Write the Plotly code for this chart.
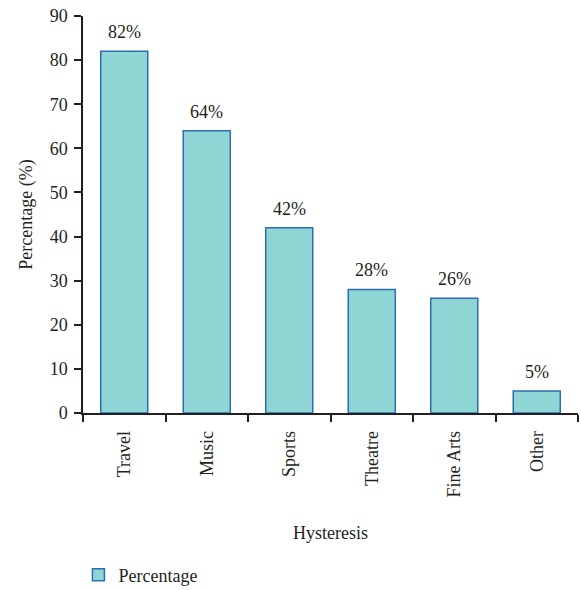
import plotly.graph_objects as go

categories = ["Travel", "Music", "Sports", "Theatre", "Fine Arts", "Other"]
percentages = [82, 64, 42, 28, 26, 5]
y_ticks = [0, 10, 20, 30, 40, 50, 60, 70, 80, 90]

FONT = "Liberation Serif, Times New Roman, serif"
TEXT = "#231f20"
SIZE = 18

fig = go.Figure()
fig.add_trace(go.Bar(
    x=categories,
    y=percentages,
    name="Percentage",
    marker=dict(color="#8fd5d4", line=dict(color="#2b6cb5", width=1.5)),
    showlegend=True,
))

# value labels above each bar
for cat, val in zip(categories, percentages):
    fig.add_annotation(
        x=cat, y=val, text=f"{val}%",
        showarrow=False, yanchor="bottom", yshift=7,
        font=dict(family=FONT, size=SIZE, color=TEXT),
    )

fig.update_layout(
    width=581, height=590,
    margin=dict(l=83, r=3, t=16, b=177),
    plot_bgcolor="white", paper_bgcolor="white",
    font=dict(family=FONT, size=SIZE, color=TEXT),
    bargap=0.43,
    showlegend=True,
    legend=dict(
        orientation="h",
        xref="container", yref="container",
        x=0.135, y=1 - 575 / 590,
        xanchor="left", yanchor="middle",
        font=dict(family=FONT, size=SIZE, color=TEXT),
    ),
    xaxis=dict(
        showline=True, linecolor=TEXT, linewidth=1.5,
        ticks="outside", ticklen=7, tickcolor=TEXT, tickwidth=1.5,
        tickson="boundaries",
        tickangle=-90,
        ticklabelstandoff=9,
        tickfont=dict(family=FONT, size=SIZE, color=TEXT),
        title=dict(text="Hysteresis", standoff=30,
                   font=dict(family=FONT, size=SIZE, color=TEXT)),
    ),
    yaxis=dict(
        range=[0, 90],
        tickvals=y_ticks,
        showline=True, linecolor=TEXT, linewidth=1.5,
        ticks="outside", ticklen=7, tickcolor=TEXT, tickwidth=1.5,
        ticklabelstandoff=3,
        showgrid=False, zeroline=False,
        tickfont=dict(family=FONT, size=SIZE, color=TEXT),
        title=dict(text="Percentage (%)", standoff=12,
                   font=dict(family=FONT, size=SIZE, color=TEXT)),
    ),
)

fig.write_html("out.html")
